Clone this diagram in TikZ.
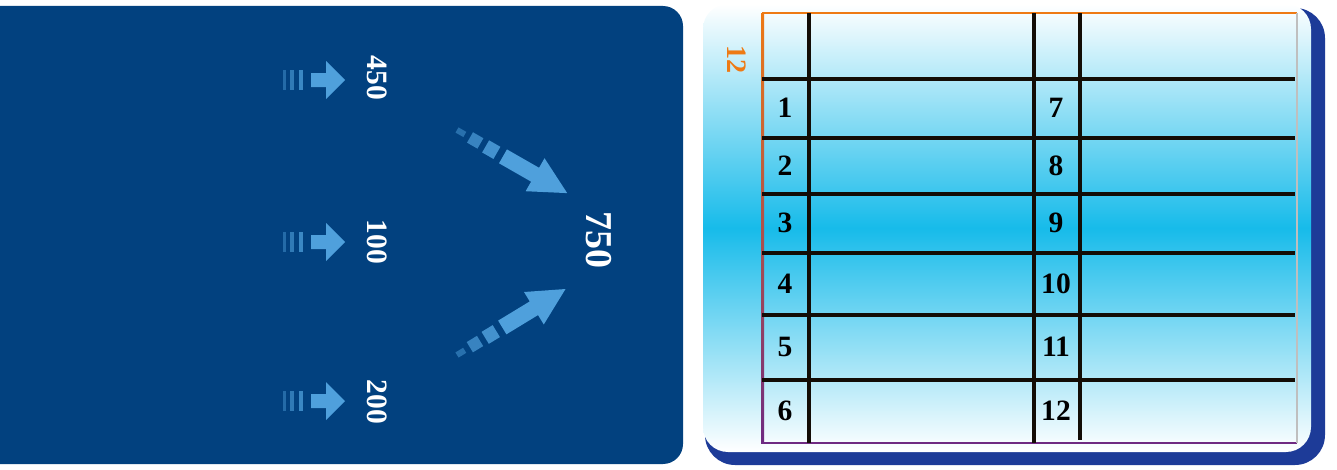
\documentclass[tikz,border=0pt]{standalone}
\usepackage{fontspec}
\setmainfont{Liberation Serif}
\usepackage{tikz}
\usetikzlibrary{calc}
\definecolor{panelblue}{HTML}{02417F}
\definecolor{arrowblue}{HTML}{4FA0DC}
\definecolor{shadowblue}{HTML}{1D3B98}
\definecolor{tablecyan}{HTML}{17BBEA}
\definecolor{titleorange}{HTML}{EE7A14}
\definecolor{bordergreen}{HTML}{2E7D32}
\definecolor{borderpurple}{HTML}{6E2A82}

\begin{document}
\begin{tikzpicture}[x=0.1mm,y=-0.1mm,
  partnum/.style={rotate=-90,text=white,font=\fontsize{8.4}{9}\selectfont\bfseries},
  totalnum/.style={rotate=-90,text=white,font=\fontsize{10.8}{12}\selectfont\bfseries},
  rownum/.style={font=\fontsize{8.4}{9}\selectfont\bfseries},
  gridline/.style={line width=0.45mm,black!90!brown},
  arrowpart/.style={fill=arrowblue}]
  \useasboundingbox (0,0) rectangle (1337,470);

  % left panel
  \fill[panelblue,rounded corners=2mm] (-40,6) rectangle (683,464);
  \foreach \y in {80,242,401}{
    \begin{scope}[shift={(0,\y)}]
      \fill[arrowpart,opacity=.45] (283,-10) rectangle (286,10);
      \fill[arrowpart,opacity=.6] (290,-10) rectangle (294,10);
      \fill[arrowpart,opacity=.75] (299,-10) rectangle (303,10);
      \fill[arrowpart] (311,-7) -- (326,-7) -- (326,-19) -- (345,0)
        -- (326,19) -- (326,7) -- (311,7) -- cycle;
    \end{scope}
  }
  \node[partnum] (n450) at (377,78) {450};
  \node[partnum] (n100) at (377,242) {100};
  \node[partnum] (n200) at (377,402) {200};
  \node[totalnum] (n750) at (599,240) {750};
  \begin{scope}[shift={(457,130)},rotate=-29.8]
    \fill[arrowpart,opacity=.5] (0,-3) rectangle (9,3);
    \fill[arrowpart,opacity=.7] (15,-6) rectangle (27,6);
    \fill[arrowpart,opacity=.85] (33,-7) rectangle (46,7);
    \fill[arrowpart] (53,-8) -- (90,-8) -- (90,-19) -- (127,0)
      -- (90,19) -- (90,8) -- (53,8) -- cycle;
  \end{scope}
  \begin{scope}[shift={(457,355)},rotate=31.3]
    \fill[arrowpart,opacity=.5] (0,-3) rectangle (9,3);
    \fill[arrowpart,opacity=.7] (15,-6) rectangle (27,6);
    \fill[arrowpart,opacity=.85] (33,-7) rectangle (46,7);
    \fill[arrowpart] (53,-8) -- (90,-8) -- (90,-19) -- (127,0)
      -- (90,19) -- (90,8) -- (53,8) -- cycle;
  \end{scope}

  % right panel
  \fill[shadowblue,rounded corners=3mm] (705,8) rectangle (1325,465);
  \shade[top color=white,bottom color=white,middle color=tablecyan,
    rounded corners=2.5mm] (703,4) rectangle (1311,452);
  \node[rotate=-90,text=titleorange,font=\fontsize{8}{9}\selectfont\bfseries]
    (title12) at (737,60) {12};

  % table
  \shade[top color=titleorange,middle color=bordergreen,bottom color=borderpurple]
    (761,13) rectangle (764,443);
  \draw[titleorange,line width=0.25mm] (762,13) -- (1297,13);
  \draw[borderpurple,line width=0.25mm] (762,443) -- (1297,443);
  \draw[black!25,line width=0.15mm] (1297,13) -- (1297,443);
  \foreach \y in {79,138,194,253,315,380}
    \draw[gridline] (762,\y) -- (1295,\y);
  \draw[gridline] (809,13) -- (809,443);
  \draw[gridline] (1034,13) -- (1034,443);
  \draw[gridline] (1080,13) -- (1080,440);
  \foreach \k/\y in {1/108,2/166,3/223,4/284,5/347,6/411}
    \node[rownum] (r\k) at (785,\y) {\k};
  \foreach \k/\y in {7/108,8/166,9/223,10/284,11/347,12/411}
    \node[rownum] (r\k) at (1056,\y) {\k};
\end{tikzpicture}
\end{document}
